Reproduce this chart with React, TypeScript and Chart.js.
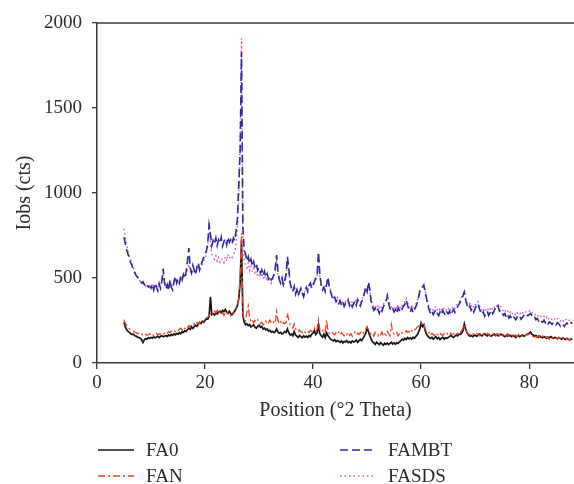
import React, { useEffect, useRef } from "react";
import { Chart, registerables } from "chart.js";

Chart.register(...registerables);

// Sampling grid of the diffraction scans (°2θ)
const X_START = 5;
const X_STEP = 0.25;

const X_TICKS = [0, 20, 40, 60, 80];
const Y_TICKS = [0, 500, 1000, 1500, 2000];

const SERIES_NAMES = ["FA0", "FAN", "FAMBT", "FASDS"];

const FA0 = [
  240, 212, 196, 186, 180, 172, 168, 170, 160, 158, 152, 150, 146, 138, 120, 136, 144, 140, 148, 145,
  150, 146, 155, 148, 152, 158, 150, 156, 160, 154, 158, 162, 156, 165, 160, 168, 163, 172, 166, 174,
  170, 178, 172, 184, 180, 190, 186, 196, 205, 198, 212, 204, 215, 222, 216, 228, 238, 232, 246, 240,
  250, 262, 258, 275, 390, 285, 290, 282, 295, 288, 300, 305, 296, 310, 302, 315, 300, 292, 305, 290,
  285, 295, 305, 320, 340, 380, 470, 720, 280, 240, 225, 230, 220, 226, 212, 218, 225, 210, 205, 215,
  222, 210, 215, 200, 205, 195, 200, 188, 192, 182, 186, 178, 184, 200, 182, 175, 180, 170, 176, 185,
  180, 200, 178, 165, 170, 160, 185, 165, 158, 150, 162, 155, 148, 160, 152, 158, 150, 162, 155, 170,
  175, 190, 168, 178, 222, 172, 160, 152, 170, 150, 178, 162, 150, 140, 135, 130, 138, 125, 132, 128,
  122, 130, 118, 128, 124, 132, 120, 126, 118, 130, 124, 128, 135, 122, 130, 140, 132, 145, 160, 175,
  205, 185, 160, 140, 125, 118, 110, 122, 115, 108, 120, 112, 105, 116, 110, 118, 108, 115, 122, 112,
  118, 110, 120, 115, 125, 132, 140, 135, 145, 138, 150, 142, 148, 140, 152, 145, 155, 165, 180, 200,
  235, 215, 225, 190, 170, 158, 150, 145, 152, 140, 148, 155, 142, 150, 138, 146, 152, 140, 148, 145,
  150, 155, 162, 155, 150, 158, 165, 160, 170, 168, 175, 190, 230, 200, 178, 165, 158, 162, 155, 160,
  165, 158, 162, 170, 165, 160, 168, 172, 165, 160, 168, 162, 158, 165, 170, 162, 168, 160, 165, 170,
  165, 160, 155, 162, 158, 165, 160, 155, 162, 158, 150, 158, 162, 155, 160, 165, 158, 162, 168, 170,
  175, 182, 170, 165, 158, 162, 155, 150, 158, 152, 148, 155, 150, 145, 152, 148, 155, 150, 145, 150,
  148, 142, 150, 145, 140, 148, 142, 138, 145, 140, 135, 142, 138,
];

const FAN = [
  255, 232, 220, 210, 200, 195, 190, 185, 180, 178, 172, 176, 168, 170, 160, 165, 170, 162, 168, 172,
  165, 172, 160, 170, 175, 165, 172, 168, 178, 170, 175, 182, 176, 185, 178, 188, 182, 190, 185, 195,
  190, 198, 205, 195, 210, 202, 215, 208, 220, 212, 225, 218, 232, 225, 238, 230, 242, 236, 250, 245,
  255, 262, 270, 278, 290, 300, 285, 305, 295, 310, 290, 300, 285, 296, 280, 292, 285, 300, 288, 278,
  282, 290, 300, 315, 335, 390, 500, 765, 290, 250, 245, 300, 335, 270, 245, 255, 235, 250, 240, 255,
  243, 232, 240, 225, 235, 248, 228, 238, 252, 235, 228, 245, 236, 302, 250, 230, 242, 225, 238, 230,
  238, 294, 250, 225, 215, 205, 230, 200, 190, 182, 195, 185, 178, 190, 182, 176, 188, 180, 192, 185,
  190, 205, 185, 198, 253, 195, 182, 190, 200, 185, 253, 190, 175, 168, 180, 172, 165, 178, 170, 182,
  165, 178, 170, 160, 175, 168, 180, 162, 172, 158, 170, 182, 165, 175, 168, 178, 185, 172, 190, 200,
  214, 195, 178, 165, 172, 158, 180, 168, 160, 175, 165, 182, 158, 170, 165, 185, 172, 160, 225, 180,
  170, 165, 178, 160, 172, 185, 176, 182, 178, 190, 180, 186, 175, 190, 182, 195, 200, 210, 215, 225,
  235, 225, 230, 200, 185, 172, 180, 165, 175, 168, 160, 178, 170, 162, 175, 168, 160, 172, 165, 175,
  168, 160, 175, 165, 170, 178, 168, 175, 185, 180, 190, 205, 225, 195, 180, 170, 165, 175, 168, 172,
  165, 175, 168, 160, 172, 178, 165, 170, 162, 175, 168, 158, 170, 165, 175, 160, 168, 172, 162, 170,
  160, 168, 155, 165, 172, 160, 152, 165, 158, 170, 162, 155, 168, 160, 152, 165, 158, 162, 170, 165,
  172, 165, 158, 152, 160, 148, 155, 162, 150, 145, 158, 150, 142, 155, 148, 140, 152, 145, 150, 142,
  148, 140, 152, 145, 138, 150, 142, 135, 145, 140, 136, 142, 135,
];

const FAMBT = [
  740, 700, 665, 640, 612, 590, 572, 545, 530, 515, 505, 490, 482, 470, 478, 462, 455, 465, 448, 452,
  440, 462, 430, 470, 445, 425, 468, 440, 480, 555, 470, 435, 460, 425, 490, 445, 430, 480, 510, 470,
  495, 470, 510, 488, 520, 498, 540, 600, 676, 560, 530, 575, 545, 520, 565, 590, 548, 575, 600, 620,
  640, 660, 700, 812, 760, 690, 720, 700, 735, 690, 725, 705, 740, 688, 715, 730, 695, 740, 710, 725,
  700, 735, 720, 780, 850, 1050, 1250, 1830, 800, 665, 640, 600, 625, 585, 610, 570, 595, 560, 580, 545,
  560, 530, 548, 515, 540, 505, 525, 495, 510, 488, 500, 520, 560, 635, 540, 490, 470, 500, 460, 485,
  520, 624, 560, 470, 440, 420, 450, 405, 430, 395, 420, 440, 410, 390, 425, 445, 420, 455, 470, 440,
  460, 480, 500, 520, 653, 520, 460, 430, 445, 420, 460, 506, 450, 420, 390, 370, 385, 360, 375, 350,
  365, 340, 358, 332, 350, 345, 368, 338, 355, 330, 348, 365, 340, 372, 350, 335, 360, 380, 410, 445,
  420, 476, 430, 360, 330, 310, 322, 300, 315, 292, 320, 305, 330, 345, 360, 395, 350, 320, 305, 318,
  300, 315, 292, 325, 310, 298, 320, 335, 345, 370, 340, 312, 300, 322, 295, 310, 330, 350, 380, 420,
  430, 445, 459, 420, 380, 340, 310, 290, 305, 285, 300, 315, 290, 278, 300, 285, 310, 295, 280, 300,
  290, 305, 282, 300, 315, 298, 320, 330, 345, 360, 380, 395, 418, 370, 340, 320, 335, 310, 325, 300,
  320, 340, 350, 325, 300, 285, 300, 275, 290, 305, 280, 295, 310, 290, 305, 325, 318, 335, 305, 312,
  295, 280, 290, 270, 285, 265, 278, 260, 275, 268, 255, 270, 262, 275, 258, 268, 280, 272, 285, 278,
  285, 292, 280, 265, 270, 255, 262, 248, 258, 245, 240, 252, 236, 245, 230, 242, 235, 228, 240, 232,
  225, 238, 230, 218, 232, 225, 215, 228, 235, 222, 230, 238, 232,
];

const FASDS = [
  790, 740, 700, 660, 630, 605, 580, 560, 540, 520, 505, 495, 480, 472, 468, 460, 450, 458, 445, 455,
  450, 470, 440, 460, 452, 438, 470, 455, 475, 520, 480, 450, 465, 440, 480, 460, 445, 470, 495, 480,
  490, 478, 500, 492, 510, 505, 520, 545, 580, 540, 525, 545, 535, 528, 550, 565, 545, 560, 580, 600,
  615, 640, 690, 830, 700, 640, 625, 610, 630, 600, 620, 595, 615, 605, 590, 625, 600, 640, 615, 630,
  620, 640, 650, 700, 800, 1000, 1300, 1910, 750, 600, 580, 560, 590, 545, 570, 535, 555, 520, 540, 510,
  520, 505, 530, 495, 515, 488, 505, 480, 495, 470, 490, 505, 540, 600, 520, 480, 470, 492, 455, 475,
  500, 590, 540, 465, 440, 425, 445, 410, 428, 400, 422, 438, 415, 400, 430, 440, 425, 450, 465, 445,
  455, 475, 490, 510, 620, 510, 465, 440, 450, 430, 465, 495, 455, 425, 400, 385, 395, 372, 385, 365,
  372, 355, 368, 345, 362, 358, 375, 350, 365, 345, 360, 372, 355, 380, 362, 350, 372, 390, 415, 445,
  430, 470, 435, 372, 345, 330, 340, 322, 335, 318, 338, 325, 345, 358, 372, 400, 365, 340, 328, 335,
  322, 335, 318, 342, 330, 320, 338, 350, 360, 380, 355, 335, 325, 340, 318, 330, 348, 365, 390, 425,
  435, 450, 455, 425, 390, 355, 330, 315, 325, 310, 322, 335, 315, 305, 322, 310, 330, 318, 305, 322,
  315, 328, 308, 322, 335, 320, 340, 348, 360, 372, 390, 400, 420, 380, 355, 340, 350, 332, 345, 325,
  340, 355, 362, 342, 322, 310, 322, 300, 312, 325, 305, 318, 330, 312, 325, 342, 335, 350, 325, 332,
  315, 302, 312, 295, 305, 290, 300, 285, 298, 290, 280, 295, 288, 298, 282, 292, 302, 295, 305, 300,
  305, 310, 298, 288, 292, 278, 285, 272, 280, 268, 265, 275, 260, 270, 255, 268, 260, 255, 265, 258,
  250, 262, 255, 245, 258, 250, 242, 255, 260, 248, 255, 262, 258,
];

const FONT = '"Liberation Serif", "DejaVu Serif", serif';
const TEXT_COLOR = "#2b2b2b";
const AXIS_COLOR = "#3a3a3a";

const toPoints = (vals: number[]) =>
  vals.map((y, i) => ({ x: X_START + i * X_STEP, y }));

const topBorderPlugin = {
  id: "topBorder",
  beforeDatasetsDraw(chart: any) {
    const { ctx, chartArea } = chart;
    ctx.save();
    ctx.strokeStyle = AXIS_COLOR;
    ctx.lineWidth = 1.5;
    ctx.beginPath();
    ctx.moveTo(chartArea.left, chartArea.top);
    ctx.lineTo(chartArea.right, chartArea.top);
    ctx.stroke();
    ctx.restore();
  },
};

const gridLegendPlugin = {
  id: "gridLegend",
  afterDraw(chart: any) {
    const { ctx } = chart;
    const colX = [98, 340];
    const rowY = [450, 476];
    const slots = [
      [0, 0],
      [0, 1],
      [1, 0],
      [1, 1],
    ];
    ctx.save();
    ctx.font = `19px ${FONT}`;
    ctx.textBaseline = "middle";
    ctx.textAlign = "left";
    chart.data.datasets.forEach((ds: any, i: number) => {
      const [c, r] = slots[i];
      const x = colX[c];
      const y = rowY[r];
      ctx.save();
      ctx.strokeStyle = ds.borderColor;
      ctx.lineWidth = ds.borderWidth;
      ctx.setLineDash(ds.borderDash || []);
      ctx.beginPath();
      ctx.moveTo(x, y);
      ctx.lineTo(x + 36, y);
      ctx.stroke();
      ctx.restore();
      ctx.fillStyle = TEXT_COLOR;
      ctx.fillText(ds.label, x + 48, y + 1);
    });
    ctx.restore();
  },
};

export default function App() {
  const canvasRef = useRef<HTMLCanvasElement | null>(null);

  useEffect(() => {
    document.body.style.margin = "0";
    const canvas = canvasRef.current;
    if (!canvas) return;

    const chart = new Chart(canvas, {
      type: "line",
      data: {
        datasets: [
          {
            label: SERIES_NAMES[0],
            data: toPoints(FA0),
            borderColor: "#161616",
            borderWidth: 1.7,
            borderDash: [],
            pointRadius: 0,
            order: 1,
          },
          {
            label: SERIES_NAMES[1],
            data: toPoints(FAN),
            borderColor: "#ee4020",
            borderWidth: 1.3,
            borderDash: [7, 3, 2, 3],
            pointRadius: 0,
            order: 0,
          },
          {
            label: SERIES_NAMES[2],
            data: toPoints(FAMBT),
            borderColor: "#2f2a9c",
            borderWidth: 1.6,
            borderDash: [8, 4],
            pointRadius: 0,
            order: 2,
          },
          {
            label: SERIES_NAMES[3],
            data: toPoints(FASDS),
            borderColor: "#cf55bd",
            borderWidth: 1.4,
            borderDash: [1.5, 3],
            pointRadius: 0,
            order: 3,
          },
        ] as any,
      },
      options: {
        responsive: false,
        animation: false,
        devicePixelRatio: 1,
        layout: { padding: { left: 0, right: 0, top: 23, bottom: 61 } },
        elements: { line: { tension: 0 } },
        plugins: {
          legend: { display: false },
          tooltip: { enabled: false },
        },
        scales: {
          x: {
            type: "linear",
            min: 0,
            max: 88.3,
            afterBuildTicks: (s: any) => {
              s.ticks = X_TICKS.map((v) => ({ value: v }));
            },
            afterFit: (s: any) => {
              s.height = 60;
            },
            grid: {
              display: true,
              drawOnChartArea: false,
              drawTicks: true,
              tickLength: 6,
              color: AXIS_COLOR,
              lineWidth: 1.3,
            },
            border: { display: true, color: AXIS_COLOR, width: 1.5 },
            ticks: {
              padding: 3,
              color: TEXT_COLOR,
              font: { family: FONT, size: 19 },
              maxRotation: 0,
              autoSkip: false,
              callback: (v: any) => String(v),
            },
            title: {
              display: true,
              text: "Position (°2 Theta)",
              color: TEXT_COLOR,
              font: { family: FONT, size: 20 },
              padding: { top: 0, bottom: 0 },
            },
          },
          y: {
            min: 0,
            max: 2000,
            afterBuildTicks: (s: any) => {
              s.ticks = Y_TICKS.map((v) => ({ value: v }));
            },
            afterFit: (s: any) => {
              s.width = 97;
            },
            grid: {
              display: true,
              drawOnChartArea: false,
              drawTicks: true,
              tickLength: 5,
              color: AXIS_COLOR,
              lineWidth: 1.3,
            },
            border: { display: true, color: AXIS_COLOR, width: 1.5 },
            ticks: {
              padding: 10,
              color: TEXT_COLOR,
              font: { family: FONT, size: 19 },
              autoSkip: false,
              callback: (v: any) => String(v),
            },
            title: {
              display: true,
              text: "Iobs (cts)",
              color: TEXT_COLOR,
              font: { family: FONT, size: 20 },
              padding: { top: 13, bottom: 0 },
            },
          },
        },
      },
      plugins: [topBorderPlugin, gridLegendPlugin],
    });

    return () => {
      chart.destroy();
    };
  }, []);

  return (
    <div style={{ width: 574, height: 484 }}>
      <canvas
        ref={canvasRef}
        width={574}
        height={484}
        style={{ display: "block", width: 574, height: 484 }}
      />
    </div>
  );
}
